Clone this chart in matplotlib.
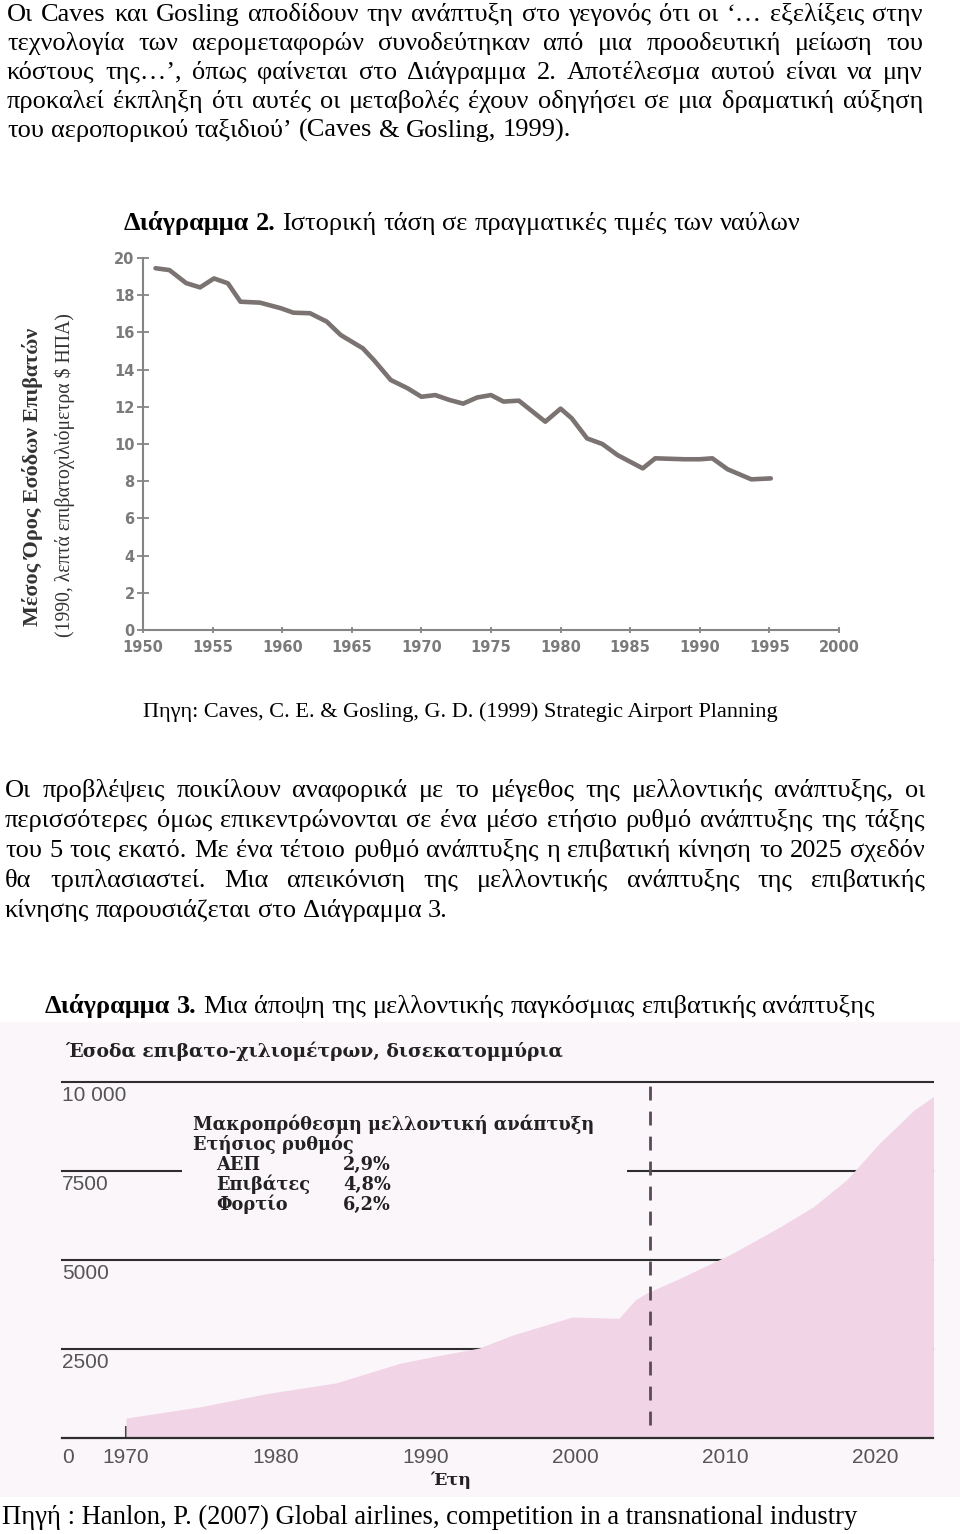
import matplotlib
matplotlib.use('Agg')
import matplotlib.pyplot as plt
from matplotlib.patches import Rectangle

# ---------------- data ----------------
# Diagram 2: real fares (1990 US cents per passenger-km)
fare_years = [1950.9, 1951.9, 1953.1, 1954.1, 1955.1, 1956.1, 1957.0, 1958.4, 1959.9, 1960.8,
              1962.0, 1963.2, 1964.2, 1965.8, 1966.6, 1967.8, 1969.0, 1970.0, 1971.0, 1972.0,
              1973.0, 1974.0, 1975.0, 1975.9, 1977.0, 1978.9, 1980.0, 1980.8, 1981.9, 1983.0,
              1984.1, 1985.9, 1986.8, 1988.9, 1990.0, 1990.9, 1992.0, 1993.7, 1995.1]
fare_values = [19.45, 19.35, 18.65, 18.42, 18.9, 18.64, 17.65, 17.6, 17.3, 17.06,
               17.03, 16.58, 15.86, 15.14, 14.5, 13.44, 13.0, 12.54, 12.63, 12.37,
               12.17, 12.5, 12.63, 12.28, 12.33, 11.2, 11.9, 11.38, 10.3, 10.0,
               9.4, 8.69, 9.23, 9.18, 9.18, 9.23, 8.64, 8.1, 8.15]
fare_xticks = list(range(1950, 2001, 5))
fare_yticks = list(range(0, 21, 2))

# Diagram 3: revenue passenger-km, billions
rpk_years = [1970, 1975, 1979.5, 1984, 1988.3, 1990.5, 1993.6, 1995.8, 1999.8, 2002.9,
             2004.0, 2004.7, 2007, 2010.5, 2013.7, 2015.9, 2018.1, 2020.3, 2022.6, 2023.9]
rpk_values = [560, 880, 1255, 1545, 2100, 2285, 2530, 2890, 3400, 3360,
              3880, 4060, 4490, 5190, 5940, 6500, 7250, 8280, 9210, 9590]
rpk_xticks = list(range(1970, 2021, 10))
rpk_grid = [2500, 5000, 7500, 10000]
rpk_grid_labels = ['2500', '5000', '7500', '10 000']
forecast_start = 2005
growth_items = ['ΑΕΠ', 'Επιβάτες', 'Φορτίο']
growth_rates = ['2,9%', '4,8%', '6,2%']

para1 = [
    "Οι Caves και Gosling αποδίδουν την ανάπτυξη στο γεγονός ότι οι ‘… εξελίξεις στην",
    "τεχνολογία των αερομεταφορών συνοδεύτηκαν από μια προοδευτική μείωση του",
    "κόστους της…’, όπως φαίνεται στο Διάγραμμα 2. Αποτέλεσμα αυτού είναι να μην",
    "προκαλεί έκπληξη ότι αυτές οι μεταβολές έχουν οδηγήσει σε μια δραματική αύξηση",
    "του αεροπορικού ταξιδιού’ (Caves & Gosling, 1999).",
]
para2 = [
    "Οι προβλέψεις ποικίλουν αναφορικά με το μέγεθος της μελλοντικής ανάπτυξης, οι",
    "περισσότερες όμως επικεντρώνονται σε ένα μέσο ετήσιο ρυθμό ανάπτυξης της τάξης",
    "του 5 τοις εκατό. Με ένα τέτοιο ρυθμό ανάπτυξης η επιβατική κίνηση το 2025 σχεδόν",
    "θα τριπλασιαστεί. Μια απεικόνιση της μελλοντικής ανάπτυξης της επιβατικής",
    "κίνησης παρουσιάζεται στο Διάγραμμα 3.",
]

# ---------------- page ----------------
W, H = 960, 1534
fig = plt.figure(figsize=(W / 100, H / 100), dpi=100)
fig.patch.set_facecolor('white')
renderer = fig.canvas.get_renderer()
SERIF = 'Liberation Serif'
BODY = 19


def fx(x):
    return x / W


def fy(y):
    return 1 - y / H


def text_width(s, size, family=SERIF, weight='normal'):
    t = fig.text(0, 0, s, fontsize=size, family=family, weight=weight)
    w = t.get_window_extent(renderer).width
    t.remove()
    return w


def fit(s, width, family=SERIF, weight='normal'):
    return 10 * width / text_width(s, 10, family, weight)


def put_line(y, runs, x0, x1=None, size=BODY, family=SERIF, color='black'):
    words = [(w, wt) for txt, wt in runs for w in txt.split()]
    widths = [text_width(w, size, family, wt) for w, wt in words]
    space = text_width('x x', size, family) - text_width('xx', size, family)
    if x1 is not None and len(words) > 1:
        space = max(space * 0.6, (x1 - x0 - sum(widths)) / (len(words) - 1))
    x = x0
    for (w, wt), wd in zip(words, widths):
        fig.text(fx(x), fy(y), w, fontsize=size, family=family, weight=wt,
                 ha='left', va='baseline', color=color)
        x += wd + space


for i, line in enumerate(para1):
    put_line(21 + 29 * i, [(line, 'normal')], 7, 923 if i < 4 else None)

put_line(230, [('Διάγραμμα 2.', 'bold'),
               ('Ιστορική τάση σε πραγματικές τιμές των ναύλων', 'normal')], 124)

# ---------------- diagram 2 ----------------
ax1 = fig.add_axes([fx(143), fy(630), fx(839) - fx(143), fy(258) - fy(630)])
ax1.plot(fare_years, fare_values, color='#7b7272', lw=3.3, solid_joinstyle='round',
         solid_capstyle='round')
ax1.set_xlim(1950, 2000)
ax1.set_ylim(0, 20)
ax1.set_xticks(fare_xticks)
ax1.set_yticks(fare_yticks)
for s in ['top', 'right']:
    ax1.spines[s].set_visible(False)
for s in ['left', 'bottom']:
    ax1.spines[s].set_color('#858585')
    ax1.spines[s].set_linewidth(1.5)
ax1.tick_params(axis='y', direction='inout', length=8, width=1.3, color='#858585',
                labelcolor='#7a7a7a', labelsize=10.5, pad=2)
ax1.tick_params(axis='x', direction='inout', length=5, width=1.3, color='#858585',
                labelcolor='#7a7a7a', labelsize=10.5, pad=5)
for lab in ax1.get_xticklabels() + ax1.get_yticklabels():
    lab.set_fontfamily('DejaVu Sans')
    lab.set_fontweight('bold')

ylab1 = 'Μέσος Όρος Εσόδων Επιβατών'
ylab2 = '(1990, λεπτά επιβατοχιλιόμετρα $ ΗΠΑ)'
fig.text(fx(33), fy(477), ylab1, rotation=90, ha='center', va='center',
         family=SERIF, weight='bold', color='#333333', fontsize=fit(ylab1, 298, weight='bold'))
fig.text(fx(65), fy(475), ylab2, rotation=90, ha='center', va='center',
         family=SERIF, color='#333333', fontsize=fit(ylab2, 324))

src1 = 'Πηγη: Caves, C. E. & Gosling, G. D. (1999) Strategic Airport Planning'
fig.text(fx(143), fy(717), src1, family=SERIF, ha='left', va='baseline',
         fontsize=fit(src1, 637))

for i, line in enumerate(para2):
    put_line(797 + 30 * i, [(line, 'normal')], 5, 925 if i < 4 else None)

put_line(1013, [('Διάγραμμα 3.', 'bold'),
                ('Μια άποψη της μελλοντικής παγκόσμιας επιβατικής ανάπτυξης', 'normal')], 45)

# ---------------- diagram 3 ----------------
BG = '#fbf6fa'
fig.add_artist(Rectangle((0, fy(1497)), 1, (1497 - 1022) / H, transform=fig.transFigure,
                         facecolor=BG, edgecolor='none', zorder=-1))

ax2 = fig.add_axes([fx(62), fy(1438), fx(933) - fx(62), fy(1082) - fy(1438)])
ax2.set_facecolor('none')
ax2.set_xlim(1965.73, 2023.87)
ax2.set_ylim(0, 10000)
for s in ['top', 'right', 'left']:
    ax2.spines[s].set_visible(False)
ax2.spines['bottom'].set_color('#2e2e2e')
ax2.spines['bottom'].set_linewidth(1.6)
ax2.spines['bottom'].set_zorder(4)

for v in rpk_grid:
    ax2.axhline(v, color='#2e2e2e', lw=1.5, zorder=1, clip_on=False)
ax2.add_patch(Rectangle((0.138, 0.70), 0.511, 0.10, transform=ax2.transAxes,
                        facecolor=BG, edgecolor='none', zorder=1.5))
ax2.fill_between(rpk_years, rpk_values, 0, color='#f1d4e6', lw=0, zorder=2)
ax2.axvline(forecast_start, ymin=0.037, ymax=1, color='#5b4a57', lw=2,
            ls=(0, (5, 4)), zorder=3)

ax2.set_xticks(rpk_xticks)
ax2.set_yticks([])
ax2.tick_params(axis='x', direction='in', length=8.5, width=1.5, color='#444444',
                labelcolor='#555555', labelsize=15, pad=7)
for lab in ax2.get_xticklabels():
    lab.set_fontfamily('Liberation Sans')

for v, lab in zip(rpk_grid, rpk_grid_labels):
    ax2.annotate(lab, xy=(0, v), xycoords=('axes fraction', 'data'), xytext=(0, -3),
                 textcoords='offset points', ha='left', va='top', fontsize=15,
                 color='#555555', family='Liberation Sans')
ax2.annotate('0', xy=(0, 0), xycoords=('axes fraction', 'data'), xytext=(0, -7),
             textcoords='offset points', ha='left', va='top', fontsize=15,
             color='#555555', family='Liberation Sans')

title2 = 'Έσοδα επιβατο-χιλιομέτρων, δισεκατομμύρια'
fig.text(fx(65), fy(1057), title2, family='DejaVu Serif', weight='bold', color='#222222',
         ha='left', va='baseline', fontsize=fit(title2, 500, 'DejaVu Serif', 'bold'))
fig.text(fx(430), fy(1485), 'Έτη', family='DejaVu Serif', weight='bold', color='#222222',
         ha='left', va='baseline', fontsize=12.5)

leg_size = fit('Μακροπρόθεσμη μελλοντική ανάπτυξη', 400, 'DejaVu Serif', 'bold')
fig.text(fx(193), fy(1130), 'Μακροπρόθεσμη μελλοντική ανάπτυξη', family='DejaVu Serif',
         weight='bold', color='#222222', fontsize=leg_size, va='baseline')
fig.text(fx(193), fy(1150), 'Ετήσιος ρυθμός', family='DejaVu Serif',
         weight='bold', color='#222222', fontsize=leg_size, va='baseline')
for i, (item, rate) in enumerate(zip(growth_items, growth_rates)):
    fig.text(fx(216), fy(1170 + 20 * i), item, family='DejaVu Serif', weight='bold',
             color='#222222', fontsize=leg_size, va='baseline')
    fig.text(fx(343), fy(1170 + 20 * i), rate, family='DejaVu Serif', weight='bold',
             color='#222222', fontsize=leg_size, va='baseline')

src2 = 'Πηγή : Hanlon, P. (2007) Global airlines, competition in a transnational industry'
fig.text(fx(2), fy(1524), src2, family=SERIF, ha='left', va='baseline',
         fontsize=fit(src2, 860))

fig.savefig('out.png', dpi=100, facecolor='white')
